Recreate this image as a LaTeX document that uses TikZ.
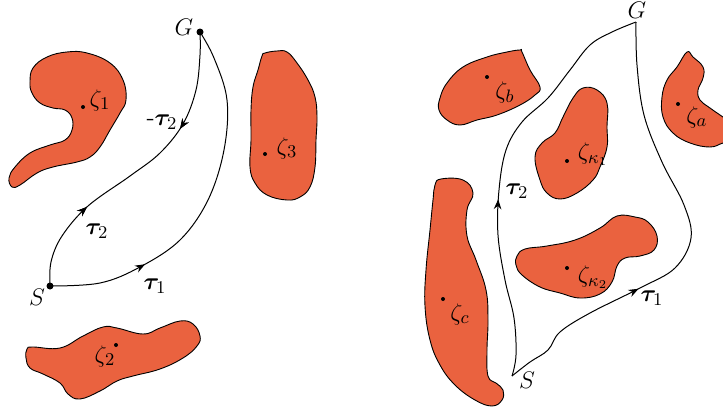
\documentclass[tikz,border=0pt]{standalone}
\usepackage{bm}
\usetikzlibrary{arrows.meta,decorations.markings}

\begin{document}
\begin{tikzpicture}[x=0.5pt, y=-0.5pt, font=\fontsize{12.5}{14}\selectfont]
    \definecolor{borderColour}{HTML}{000000}
    \definecolor{obstacleColour}{HTML}{EA623F}

    \tikzset{
        obstacle/.style={fill=obstacleColour, draw=borderColour, line width=0.45pt},
        pathLine/.style={draw=borderColour, line width=0.5pt},
        arrowAt/.style={postaction={decorate}, decoration={markings, mark=at position #1 with {\arrow{Stealth[length=5pt,width=3.8pt]}}}},
        arrowBackAt/.style={postaction={decorate}, decoration={markings, mark=at position #1 with {\arrowreversed{Stealth[length=5pt,width=3.8pt]}}}}
    }

    \useasboundingbox (0,0) rectangle (723,412);
    \clip (0,0) rectangle (723,412);

    % Left: obstacles
    \filldraw[obstacle] plot[smooth cycle, tension=0.7] coordinates {(30,82) (33,68) (47,57) (67,52) (87,53) (110,63) (123,80) (126,100) (120,113) (110,130) (100,147) (90,157) (77,162) (53,167) (37,173) (20,185) (12,187) (9,178) (15,167) (30,153) (50,145) (65,140) (72,130) (72,118) (65,110) (53,108) (40,103) (32,93)};
    \filldraw[obstacle] plot[smooth cycle, tension=0.7] coordinates {(262,56) (265,53) (277,51) (287,52) (297,63) (308,80) (315,97) (317,117) (316,140) (315,167) (310,187) (300,197) (287,200) (267,195) (255,183) (250,167) (251,140) (251,110) (253,87) (258,70)};
    \filldraw[obstacle] plot[smooth cycle, tension=0.7] coordinates {(27,349) (33,347) (60,348) (83,336) (103,327) (117,328) (143,334) (160,328) (180,321) (193,324) (200,336) (197,346) (183,358) (160,369) (133,376) (117,381) (100,391) (80,399) (68,394) (60,383) (43,374) (30,368) (26,358)};

    % Left: start and goal
    \coordinate (SL) at (50,286);
    \coordinate (GL) at (200,32);

    % Left: paths
    \draw[pathLine, arrowAt=0.27] plot[smooth, tension=0.6] coordinates {(SL) (100,283) (140,267) (180,240) (208,200) (224,150) (227,100) (214,58) (GL)};
    \draw[pathLine, arrowAt=0.29, arrowBackAt=0.68] plot[smooth, tension=0.6] coordinates {(SL) (51,262) (62,236) (88,206) (130,176) (160,153) (183,124) (196,90) (200,55) (GL)};

    \fill (SL) circle (3.5);
    \fill (GL) circle (3.5);

    \node (sLeft) at (37,297) {$S$};
    \node (gLeft) at (184,27) {$G$};
    \node (tauOneLeft) at (155,286) {$\bm{\tau}_1$};
    \node (tauTwoLeft) at (97,231) {$\bm{\tau}_2$};
    \node (tauTwoBack) at (162,122) {-$\bm{\tau}_2$};

    % Left: obstacle labels
    \fill (83,107) circle (2);
    \node (zetaOne) at (100,100) {$\zeta_1$};
    \fill (265,154) circle (2);
    \node (zetaThree) at (287,148) {$\zeta_3$};
    \fill (116,345) circle (2);
    \node (zetaTwo) at (105,356) {$\zeta_2$};

    % Right: obstacles
    \filldraw[obstacle] plot[smooth cycle, tension=0.7] coordinates {(440,98) (447,83) (463,67) (487,57) (507,52) (520,50) (522,52) (530,70) (540,87) (535,95) (520,105) (497,115) (477,120) (460,125) (447,120) (439,110)};
    \filldraw[obstacle] plot[smooth cycle, tension=0.7] coordinates {(573,98) (583,88) (597,90) (607,103) (607,127) (607,147) (600,167) (593,180) (577,193) (560,199) (547,193) (540,180) (535,157) (542,143) (555,133) (563,117)};
    \filldraw[obstacle] plot[smooth cycle, tension=0.7] coordinates {(687,52) (693,57) (703,67) (703,78) (698,90) (700,100) (710,108) (723,117) (735,125) (735,140) (723,143) (710,147) (690,143) (673,133) (663,117) (662,97) (667,80) (677,67)};
    \filldraw[obstacle] plot[smooth cycle, tension=0.7] coordinates {(435,185) (441,179) (463,180) (473,193) (467,210) (467,236) (476,260) (486,290) (488,320) (487,350) (488,376) (496,383) (503,390) (502,400) (492,406) (475,400) (455,385) (440,365) (430,340) (425,306) (426,270) (430,230) (433,200)};
    \filldraw[obstacle] plot[smooth cycle, tension=0.7] coordinates {(517,256) (525,249) (547,246) (575,240) (600,228) (617,216) (635,217) (648,222) (657,236) (654,250) (640,256) (625,258) (617,266) (612,282) (600,294) (580,298) (560,293) (540,287) (522,275) (516,265)};

    % Right: start and goal
    \coordinate (SR) at (512,376);
    \coordinate (GR) at (636,22);

    % Right: paths
    \draw[pathLine, arrowAt=0.34] plot[smooth, tension=0.6] coordinates {(SR) (530,362) (548,350) (560,332) (590,313) (640,288) (675,268) (691,238) (684,205) (662,162) (644,115) (637,65) (GR)};
    \draw[pathLine, arrowAt=0.43] plot[smooth, tension=0.6] coordinates {(SR) (516,355) (514,318) (505,280) (498,235) (499,190) (506,150) (522,122) (548,98) (570,70) (590,45) (612,32) (GR)};

    \node (sRight) at (527,380) {$S$};
    \node (gRight) at (637,10) {$G$};
    \node (tauOneRight) at (652,298) {$\bm{\tau}_1$};
    \node (tauTwoRight) at (517,191) {$\bm{\tau}_2$};

    % Right: obstacle labels
    \fill (487,77) circle (2);
    \node (zetaB) at (505,92) {$\zeta_b$};
    \fill (567,161) circle (2);
    \node (zetaKOne) at (593,154) {$\zeta_{\kappa_1}$};
    \fill (678,104) circle (2);
    \node (zetaA) at (697,117) {$\zeta_a$};
    \fill (443,299) circle (2);
    \node (zetaC) at (460,314) {$\zeta_c$};
    \fill (567,268) circle (2);
    \node (zetaKTwo) at (593,277) {$\zeta_{\kappa_2}$};

\end{tikzpicture}
\end{document}
